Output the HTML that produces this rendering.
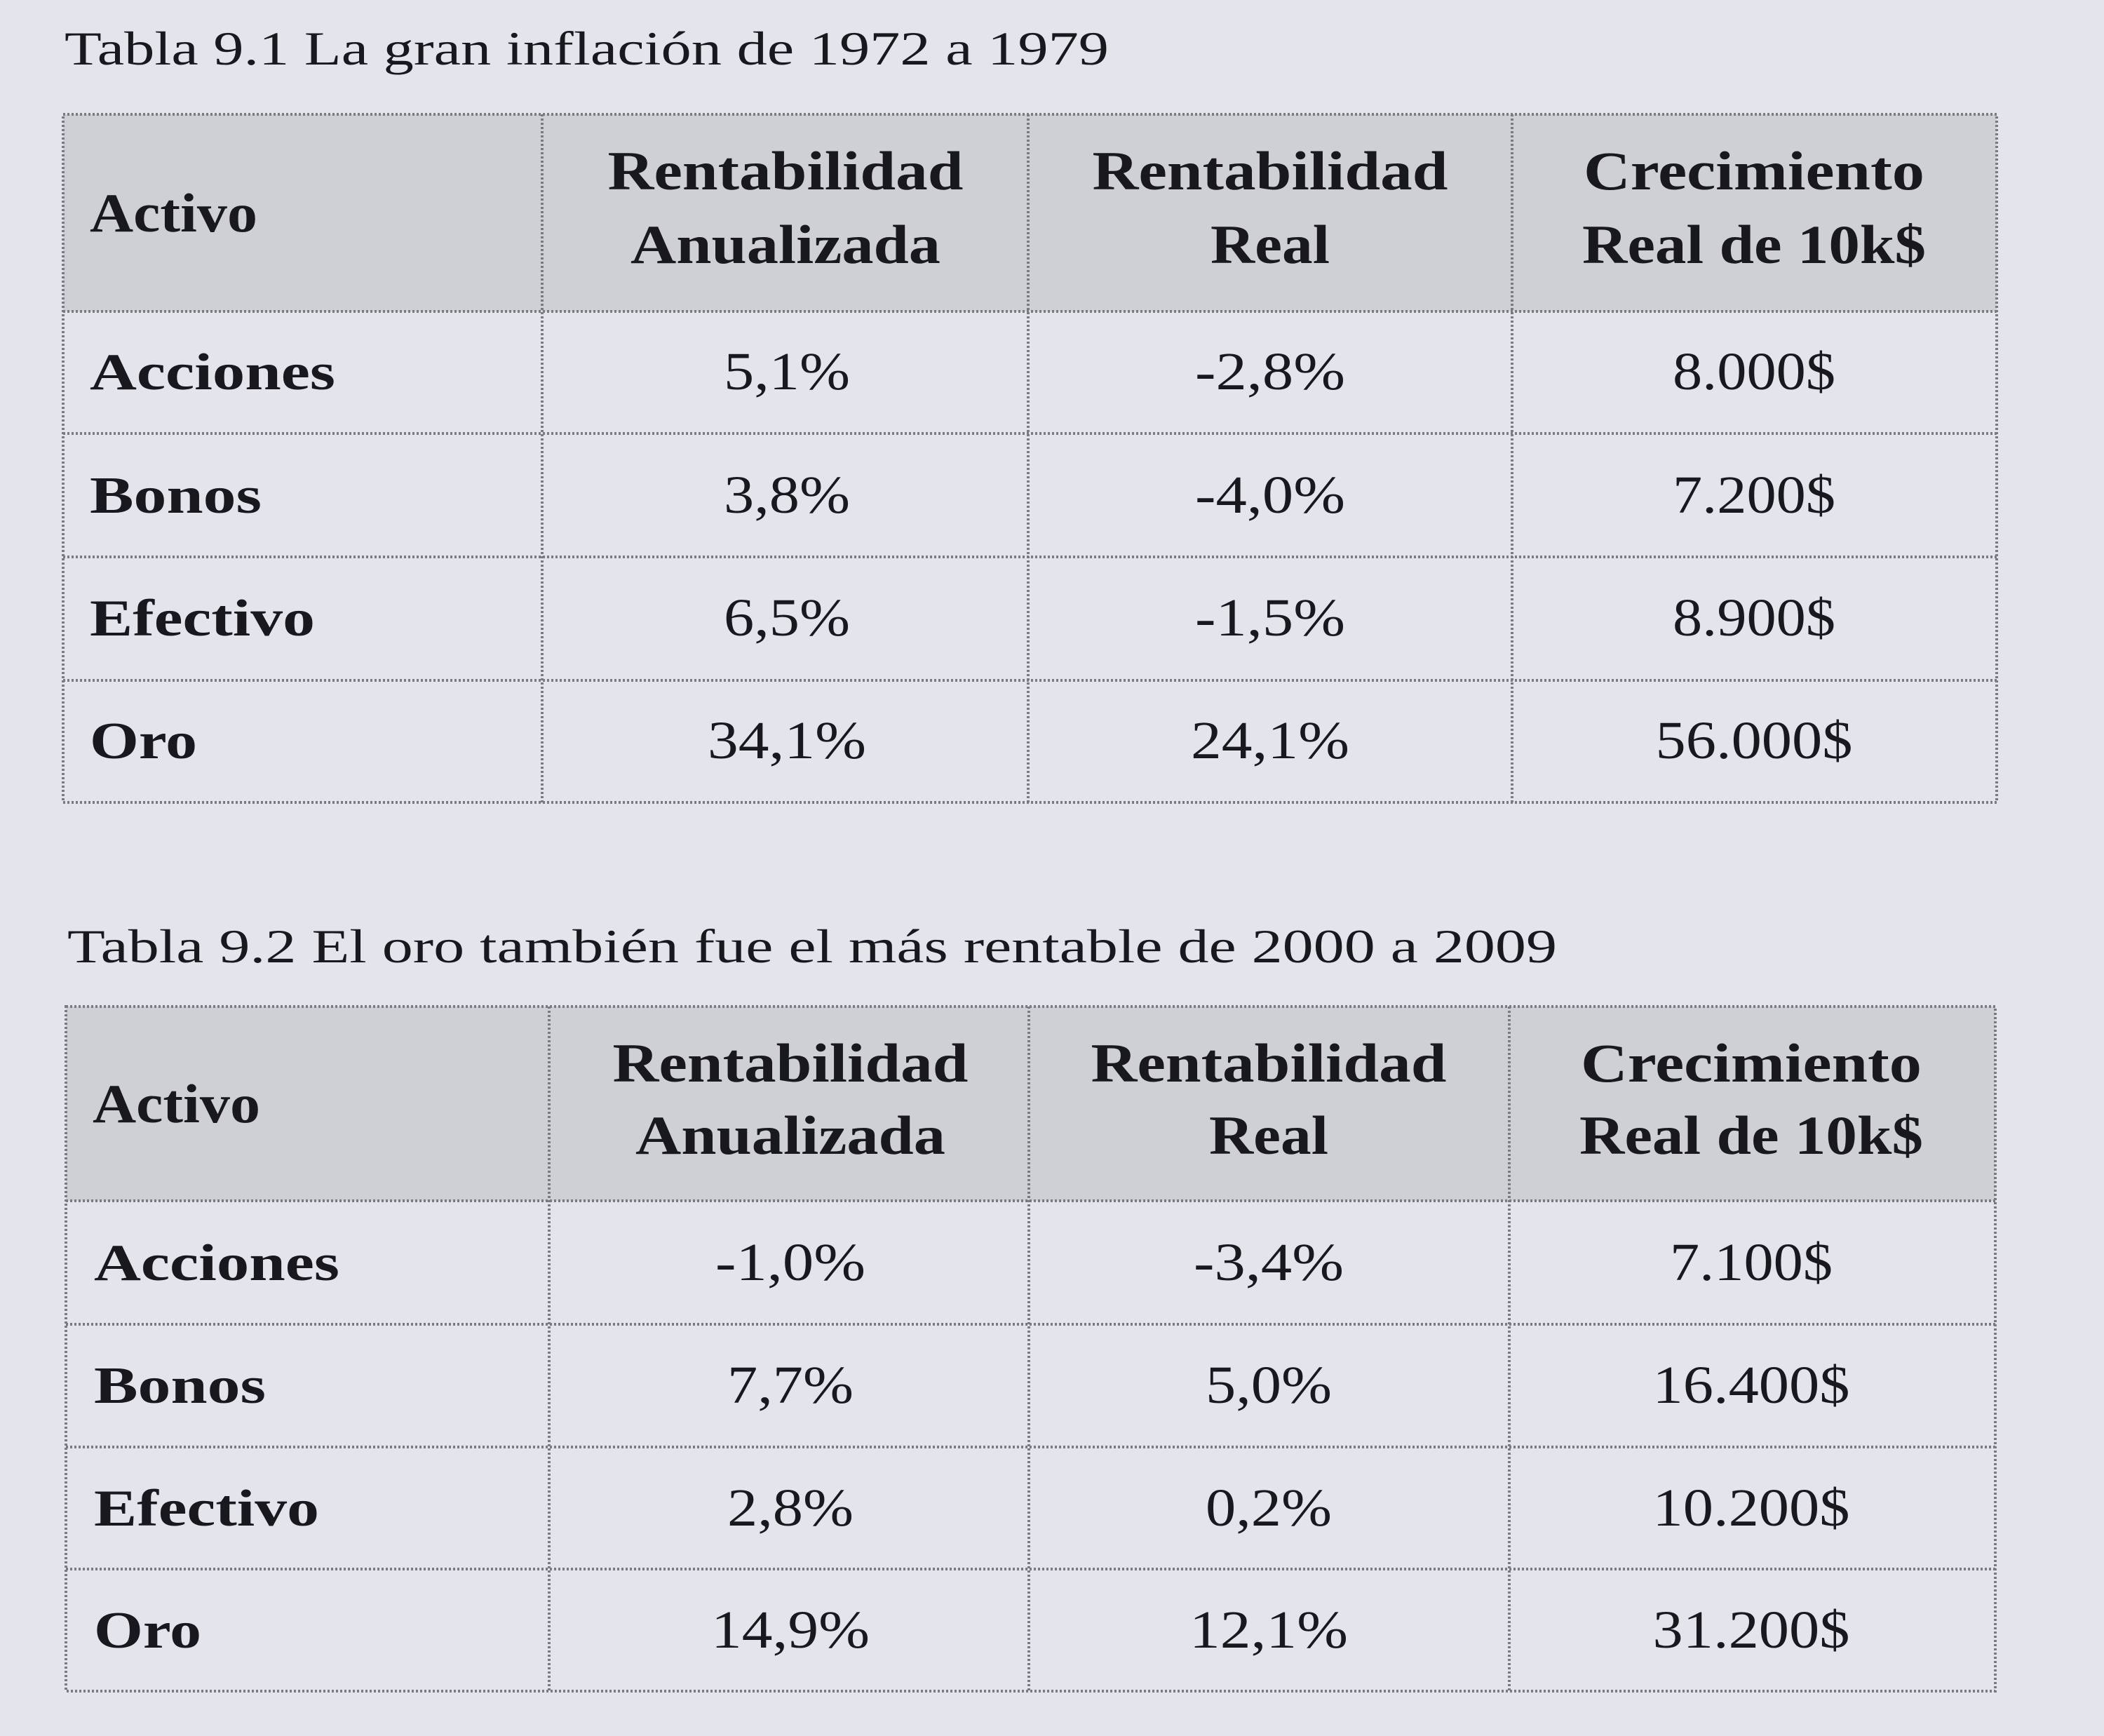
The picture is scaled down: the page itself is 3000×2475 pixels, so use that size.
<!DOCTYPE html>
<html><head><meta charset="utf-8"><style>
html,body{margin:0;padding:0;background:#e4e4ec;}
svg{display:block}
text{font-family:"Liberation Serif",serif;fill:#18181e}
.h{font-weight:bold;font-size:78px}
.b{font-weight:bold;font-size:74px}
.n{font-size:76px;fill:#26262c}
.t{font-size:68px}
</style></head><body>
<svg width="3000" height="2475" viewBox="0 0 3000 2475" xmlns="http://www.w3.org/2000/svg">
<rect width="3000" height="2475" fill="#e4e4ec"/>
<!-- Table 1 -->
<text class="t" x="92" y="92" textLength="1489" lengthAdjust="spacingAndGlyphs">Tabla 9.1  La gran inflación de 1972 a 1979</text>
<rect x="90" y="163" width="2757" height="281" fill="#cfcfd6"/>
<g stroke="#7a7a82" stroke-width="4" stroke-dasharray="3,3" fill="none">
<rect x="90" y="163" width="2757" height="981"/>
<line x1="90" y1="444" x2="2847" y2="444"/>
<line x1="90" y1="618" x2="2847" y2="618"/>
<line x1="90" y1="794" x2="2847" y2="794"/>
<line x1="90" y1="970" x2="2847" y2="970"/>
<line x1="773" y1="163" x2="773" y2="1144"/>
<line x1="1466" y1="163" x2="1466" y2="1144"/>
<line x1="2156" y1="163" x2="2156" y2="1144"/>
</g>
<text class="h" x="128" y="330" textLength="239" lengthAdjust="spacingAndGlyphs">Activo</text>
<g text-anchor="middle" class="h">
<text x="1120" y="270" textLength="507" lengthAdjust="spacingAndGlyphs">Rentabilidad</text><text x="1120" y="375" textLength="442" lengthAdjust="spacingAndGlyphs">Anualizada</text>
<text x="1811" y="270" textLength="507" lengthAdjust="spacingAndGlyphs">Rentabilidad</text><text x="1811" y="375" textLength="170" lengthAdjust="spacingAndGlyphs">Real</text>
<text x="2501" y="270" textLength="486" lengthAdjust="spacingAndGlyphs">Crecimiento</text><text x="2501" y="375" textLength="490" lengthAdjust="spacingAndGlyphs">Real de 10k$</text>
</g>
<g class="b">
<text x="128" y="555" textLength="350" lengthAdjust="spacingAndGlyphs">Acciones</text>
<text x="128" y="731" textLength="245" lengthAdjust="spacingAndGlyphs">Bonos</text>
<text x="128" y="906" textLength="321" lengthAdjust="spacingAndGlyphs">Efectivo</text>
<text x="128" y="1081" textLength="153" lengthAdjust="spacingAndGlyphs">Oro</text>
</g>
<g class="n" text-anchor="middle" lengthAdjust="spacingAndGlyphs">
<text x="1122" y="555" textLength="180" lengthAdjust="spacingAndGlyphs">5,1%</text><text x="1811" y="555" textLength="214" lengthAdjust="spacingAndGlyphs">-2,8%</text><text x="2501" y="555" textLength="232" lengthAdjust="spacingAndGlyphs">8.000$</text>
<text x="1122" y="731" textLength="180" lengthAdjust="spacingAndGlyphs">3,8%</text><text x="1811" y="731" textLength="214" lengthAdjust="spacingAndGlyphs">-4,0%</text><text x="2501" y="731" textLength="232" lengthAdjust="spacingAndGlyphs">7.200$</text>
<text x="1122" y="906" textLength="180" lengthAdjust="spacingAndGlyphs">6,5%</text><text x="1811" y="906" textLength="214" lengthAdjust="spacingAndGlyphs">-1,5%</text><text x="2501" y="906" textLength="232" lengthAdjust="spacingAndGlyphs">8.900$</text>
<text x="1122" y="1081" textLength="226" lengthAdjust="spacingAndGlyphs">34,1%</text><text x="1811" y="1081" textLength="226" lengthAdjust="spacingAndGlyphs">24,1%</text><text x="2501" y="1081" textLength="281" lengthAdjust="spacingAndGlyphs">56.000$</text>
</g>
<!-- Table 2 -->
<text class="t" x="96" y="1372" textLength="2124" lengthAdjust="spacingAndGlyphs">Tabla 9.2  El oro también fue el más rentable de 2000 a 2009</text>
<rect x="94" y="1435" width="2751" height="277" fill="#cfcfd6"/>
<g stroke="#7a7a82" stroke-width="4" stroke-dasharray="3,3" fill="none">
<rect x="94" y="1435" width="2751" height="976"/>
<line x1="94" y1="1712" x2="2845" y2="1712"/>
<line x1="94" y1="1888" x2="2845" y2="1888"/>
<line x1="94" y1="2063" x2="2845" y2="2063"/>
<line x1="94" y1="2237" x2="2845" y2="2237"/>
<line x1="783" y1="1435" x2="783" y2="2411"/>
<line x1="1467" y1="1435" x2="1467" y2="2411"/>
<line x1="2152" y1="1435" x2="2152" y2="2411"/>
</g>
<text class="h" x="132" y="1600" textLength="239" lengthAdjust="spacingAndGlyphs">Activo</text>
<g text-anchor="middle" class="h">
<text x="1127" y="1542" textLength="507" lengthAdjust="spacingAndGlyphs">Rentabilidad</text><text x="1127" y="1645" textLength="442" lengthAdjust="spacingAndGlyphs">Anualizada</text>
<text x="1809" y="1542" textLength="507" lengthAdjust="spacingAndGlyphs">Rentabilidad</text><text x="1809" y="1645" textLength="170" lengthAdjust="spacingAndGlyphs">Real</text>
<text x="2497" y="1542" textLength="486" lengthAdjust="spacingAndGlyphs">Crecimiento</text><text x="2497" y="1645" textLength="490" lengthAdjust="spacingAndGlyphs">Real de 10k$</text>
</g>
<g class="b">
<text x="134" y="1825" textLength="350" lengthAdjust="spacingAndGlyphs">Acciones</text>
<text x="134" y="2000" textLength="245" lengthAdjust="spacingAndGlyphs">Bonos</text>
<text x="134" y="2175" textLength="321" lengthAdjust="spacingAndGlyphs">Efectivo</text>
<text x="134" y="2349" textLength="153" lengthAdjust="spacingAndGlyphs">Oro</text>
</g>
<g class="n" text-anchor="middle">
<text x="1127" y="1825" textLength="214" lengthAdjust="spacingAndGlyphs">-1,0%</text><text x="1809" y="1825" textLength="214" lengthAdjust="spacingAndGlyphs">-3,4%</text><text x="2497" y="1825" textLength="232" lengthAdjust="spacingAndGlyphs">7.100$</text>
<text x="1127" y="2000" textLength="180" lengthAdjust="spacingAndGlyphs">7,7%</text><text x="1809" y="2000" textLength="180" lengthAdjust="spacingAndGlyphs">5,0%</text><text x="2497" y="2000" textLength="281" lengthAdjust="spacingAndGlyphs">16.400$</text>
<text x="1127" y="2175" textLength="180" lengthAdjust="spacingAndGlyphs">2,8%</text><text x="1809" y="2175" textLength="180" lengthAdjust="spacingAndGlyphs">0,2%</text><text x="2497" y="2175" textLength="281" lengthAdjust="spacingAndGlyphs">10.200$</text>
<text x="1127" y="2349" textLength="226" lengthAdjust="spacingAndGlyphs">14,9%</text><text x="1809" y="2349" textLength="226" lengthAdjust="spacingAndGlyphs">12,1%</text><text x="2497" y="2349" textLength="281" lengthAdjust="spacingAndGlyphs">31.200$</text>
</g>
</svg>
</body></html>
